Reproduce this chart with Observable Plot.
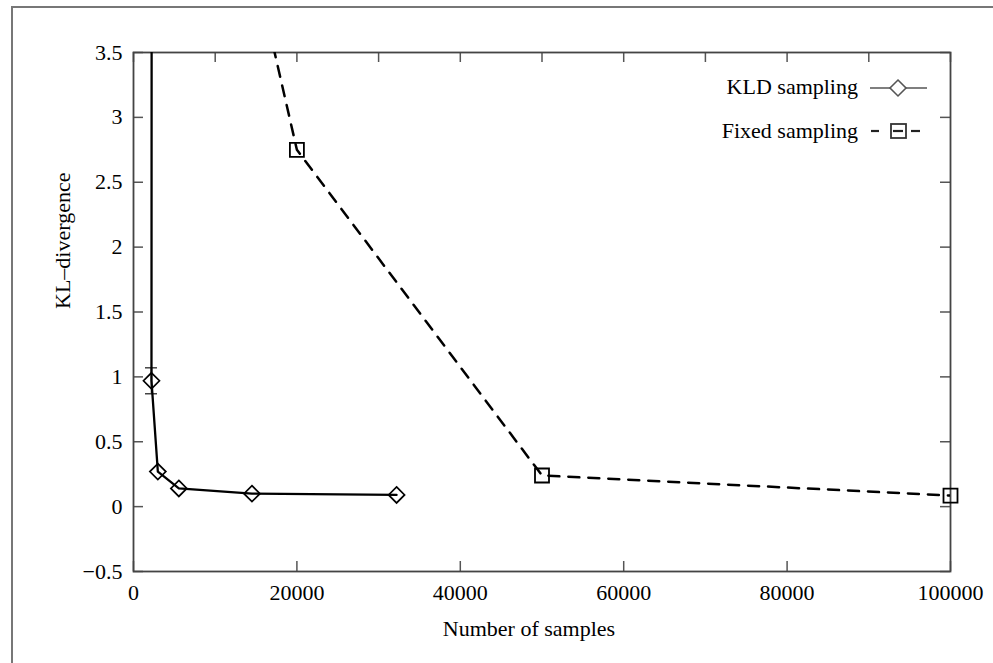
<!DOCTYPE html>
<html>
<head>
<meta charset="utf-8">
<script src="https://cdn.jsdelivr.net/npm/d3@7"></script>
<script src="https://cdn.jsdelivr.net/npm/@observablehq/plot@0.6"></script>
<style>
  html, body { margin: 0; padding: 0; background: #fff; }
  #wrap { position: relative; width: 993px; height: 663px; overflow: hidden; }
  #border { position: absolute; left: 11px; top: 6px; width: 1100px; height: 800px;
            border-left: 2px solid #777; border-top: 2px solid #777; }
  #chart { position: absolute; left: 0; top: 0; }
  #legend { position: absolute; left: 0; top: 0; }
</style>
</head>
<body>
<div id="wrap">
  <div id="border"></div>
  <div id="chart"></div>
  <svg id="legend" width="993" height="663"></svg>
</div>
<script>
// ---- data ----
const kldSamples = [2250, 2200, 2980, 5550, 14500, 32200];
const kldDivergence = [8, 0.97, 0.27, 0.14, 0.10, 0.09];
const kldErrX = [2200];
const kldErrLow = [0.87];
const kldErrHigh = [1.07];

const fixedSamples = [10000, 20000, 50000, 100000];
const fixedDivergence = [5.5, 2.75, 0.24, 0.085];

const xTicksBottom = [0, 20000, 40000, 60000, 80000, 100000];
const xTicksTop = [0, 10000, 20000, 30000, 40000, 50000, 60000, 70000, 80000, 90000, 100000];
const yTicks = [-0.5, 0, 0.5, 1, 1.5, 2, 2.5, 3, 3.5];

const seriesNames = ["KLD sampling", "Fixed sampling"];
const xLabel = "Number of samples";
const yLabel = "KL\u2013divergence";

// ---- build tables ----
const kld = kldSamples.map((x, i) => ({x, y: kldDivergence[i]}));
const kldPts = kld.slice(1);
const fixed = fixedSamples.map((x, i) => ({x, y: fixedDivergence[i]}));
const fixedPts = fixed.slice(1);
const errs = kldErrX.map((x, i) => ({x, lo: kldErrLow[i], hi: kldErrHigh[i]}));

const W = 993, H = 663, mL = 133, mR = 43, mT = 52, mB = 92;
const innerH = H - mT - mB, innerW = W - mL - mR;
const tickLen = 10;
const tickColor = "#555";
const fmtY = d => d === 0 ? "0" : String(d).replace("-", "\u2212");

const chart = Plot.plot({
  width: W, height: H,
  marginLeft: mL, marginRight: mR, marginTop: mT, marginBottom: mB,
  x: {domain: [0, 100000]},
  y: {domain: [-0.5, 3.5]},
  style: {fontFamily: "'Liberation Serif', serif", fontSize: "22px", color: "#000", background: "transparent", overflow: "visible"},
  marks: [
    // inward ticks on all four sides
    Plot.tickX(xTicksBottom, {x: d => d, insetTop: innerH - tickLen, stroke: tickColor, strokeWidth: 1.5}),
    Plot.tickX(xTicksTop, {x: d => d, insetBottom: innerH - tickLen, stroke: tickColor, strokeWidth: 1.5}),
    Plot.tickY(yTicks, {y: d => d, insetRight: innerW - tickLen, stroke: tickColor, strokeWidth: 1.5}),
    Plot.tickY(yTicks, {y: d => d, insetLeft: innerW - tickLen, stroke: tickColor, strokeWidth: 1.5}),
    Plot.axisX({ticks: xTicksBottom, tickSize: 0, tickPadding: 13, tickFormat: d => String(d), label: null}),
    Plot.axisY({ticks: yTicks, tickSize: 0, tickPadding: 11, tickFormat: fmtY, label: null}),
    Plot.text([xLabel], {frameAnchor: "bottom", dy: 64, dx: -13, fontSize: 22}),
    Plot.text([yLabel], {frameAnchor: "left", rotate: -90, dx: -71, dy: -3, fontSize: 22}),
    Plot.frame({stroke: "#444", strokeWidth: 1.8}),
    // fixed sampling
    Plot.line(fixed, {x: "x", y: "y", stroke: "#000", strokeWidth: 2.5, strokeDasharray: "11,9", clip: true}),
    Plot.dot(fixedPts, {x: "x", y: "y", symbol: "square", r: 7.9, stroke: "#000", strokeWidth: 1.8}),
    // KLD sampling
    Plot.ruleX(errs, {x: "x", y1: "lo", y2: "hi", stroke: "#444", strokeWidth: 1.5}),
    Plot.ruleY(errs, {y: "lo", x1: "x", x2: "x", insetLeft: -6, insetRight: -6, stroke: "#444", strokeWidth: 1.5}),
    Plot.ruleY(errs, {y: "hi", x1: "x", x2: "x", insetLeft: -6, insetRight: -6, stroke: "#444", strokeWidth: 1.5}),
    Plot.line(kld, {x: "x", y: "y", stroke: "#000", strokeWidth: 2.3, clip: true}),
    Plot.dot(kldPts, {x: "x", y: "y", symbol: "diamond2", r: 7.2, stroke: "#000", strokeWidth: 1.7})
  ]
});
document.getElementById("chart").appendChild(chart);

// ---- legend (layout overlay) ----
const lg = d3.select("#legend");
const tx = 858;
lg.append("text").attr("x", tx).attr("y", 94).attr("text-anchor", "end")
  .attr("font-family", "'Liberation Serif', serif").attr("font-size", 22).text(seriesNames[0]);
lg.append("text").attr("x", tx).attr("y", 138).attr("text-anchor", "end")
  .attr("font-family", "'Liberation Serif', serif").attr("font-size", 22).text(seriesNames[1]);
lg.append("line").attr("x1", 870).attr("x2", 927).attr("y1", 88).attr("y2", 88)
  .attr("stroke", "#555").attr("stroke-width", 1.6);
lg.append("path").attr("d", d3.symbol(d3.symbolDiamond2, Math.PI * 7.2 * 7.2)())
  .attr("transform", "translate(898,88)").attr("fill", "#fff").attr("stroke", "#555").attr("stroke-width", 1.6);
[[871, 879], [893, 903], [911, 920]].forEach(([a, b]) => {
  lg.append("line").attr("x1", a).attr("x2", b).attr("y1", 131).attr("y2", 131)
    .attr("stroke", "#222").attr("stroke-width", 2.2);
});
lg.append("rect").attr("x", 891).attr("y", 124).attr("width", 15).attr("height", 14)
  .attr("fill", "none").attr("stroke", "#333").attr("stroke-width", 1.8);
</script>
</body>
</html>
